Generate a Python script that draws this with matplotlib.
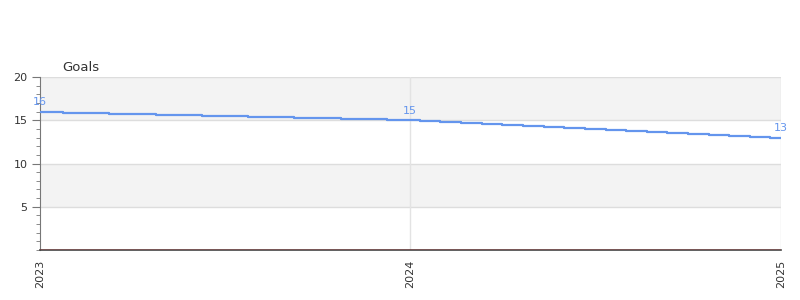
import matplotlib
matplotlib.use("Agg")
import matplotlib.pyplot as plt
import matplotlib.dates as mdates
import numpy as np
import pandas as pd

dates = ["2023-01-01", "2023-02-16", "2023-04-02", "2023-05-18", "2023-07-02",
         "2023-08-17", "2023-10-02", "2023-11-16", "2024-01-01",
         "2024-01-21", "2024-02-10", "2024-03-02", "2024-03-22", "2024-04-11",
         "2024-05-02", "2024-05-22", "2024-06-11", "2024-07-02", "2024-07-22",
         "2024-08-11", "2024-09-01", "2024-09-21", "2024-10-11", "2024-11-01",
         "2024-11-21", "2024-12-11", "2025-01-01"]
goals = [16.0, 15.88, 15.75, 15.63, 15.5, 15.38, 15.25, 15.13, 15.0,
         14.89, 14.78, 14.67, 14.56, 14.44, 14.33, 14.22, 14.11, 14.0,
         13.89, 13.78, 13.67, 13.56, 13.44, 13.33, 13.22, 13.11, 13.0]
labelled_dates = ["2023-01-01", "2024-01-01", "2025-01-01"]
year_ticks = ["2023-01-01", "2024-01-01", "2025-01-01"]
year_labels = ["2023", "2024", "2025"]
y_ticks = [5, 10, 15, 20]
bands = [(15, 20), (5, 10)]
title = "Goals"

x = pd.to_datetime(dates)
line_color = "#6495ED"

fig = plt.figure(figsize=(8, 3), dpi=100)
ax = fig.add_axes([40/800, 50/300, 741/800, 173/300])

for lo, hi in bands:
    ax.axhspan(lo, hi, color="#f3f3f3", zorder=0, lw=0)
for yv in y_ticks:
    ax.axhline(yv, color="#dddddd", lw=1, zorder=1)
for d in year_ticks[1:]:
    ax.axvline(pd.Timestamp(d), color="#e3e3e3", lw=1, zorder=1)

ax.plot(x, goals, drawstyle="steps-mid", color=line_color, lw=1.6, zorder=3)
ax.axhline(0, color="#d62728", lw=1, zorder=4)

for d in labelled_dates:
    i = dates.index(d)
    ax.annotate(f"{goals[i]:g}", (x[i], goals[i]), xytext=(0, 3),
                textcoords="offset points", ha="center", va="bottom",
                color=line_color, fontsize=8, zorder=5)

ax.set_xlim(pd.Timestamp(year_ticks[0]), pd.Timestamp(year_ticks[-1]))
ax.set_ylim(0, 20)
ax.set_xticks(pd.to_datetime(year_ticks))
ax.set_xticklabels(year_labels, rotation=90, fontsize=8, color="#333333")
ax.tick_params(axis="x", length=0, pad=7)
ax.set_yticks(y_ticks)
ax.set_yticks(np.arange(0, 21, 1), minor=True)
ax.tick_params(axis="y", which="major", length=6, color="#777777",
               labelsize=8, labelcolor="#333333", pad=3)
ax.tick_params(axis="y", which="minor", length=3, color="#777777")

for s in ["top", "right"]:
    ax.spines[s].set_visible(False)
ax.spines["left"].set_color("#777777")
ax.spines["bottom"].set_color("#444444")
ax.spines["bottom"].set_linewidth(1.2)

fig.text(62/800, 1 - 67/300, title, fontsize=9.5, color="#333333",
         ha="left", va="center")

fig.savefig("out.png", dpi=100)
